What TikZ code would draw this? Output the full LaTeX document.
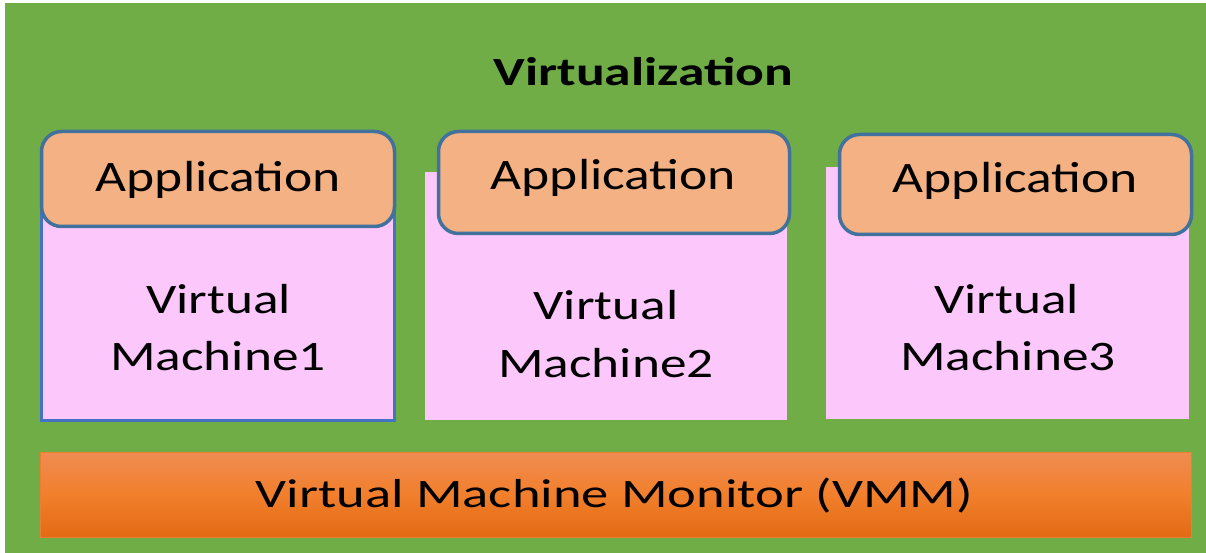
\documentclass[tikz,border=0pt]{standalone}
\usepackage{fontspec}
\setmainfont{Carlito}
\usepackage{graphicx}
\definecolor{bggreen}{HTML}{70AD47}
\definecolor{vmpink}{HTML}{FCC8FC}
\definecolor{appfill}{HTML}{F4B183}
\definecolor{appline}{HTML}{41719C}
\definecolor{vmline}{HTML}{4472C4}
\definecolor{vmmtop}{HTML}{F08C52}
\definecolor{vmmmid}{HTML}{F17F2C}
\definecolor{vmmbot}{HTML}{E36A14}
\definecolor{vmmline}{HTML}{ED7D31}
\tikzset{
  vmbox/.style={rectangle, fill=vmpink, inner sep=0pt},
  appbox/.style={rectangle, rounded corners=20pt, fill=appfill, draw=appline, line width=3.5pt, inner sep=0pt},
  vmmbox/.style={rectangle, top color=vmmtop, bottom color=vmmbot, middle color=vmmmid, draw=vmmline, line width=1pt, inner sep=0pt},
  apptext/.style={anchor=base, inner sep=0pt, font=\fontsize{43.5}{50}\selectfont},
  vmtext/.style={anchor=base, inner sep=0pt, font=\fontsize{42}{50}\selectfont},
  titletext/.style={anchor=base, inner sep=0pt, font=\fontsize{40}{48}\selectfont\bfseries},
  vmmtext/.style={anchor=base, inner sep=0pt, font=\fontsize{40.4}{48}\selectfont},
}
\newcommand{\wide}[2]{\scalebox{#1}[1]{#2}}
\begin{document}
\begin{tikzpicture}[x=1pt,y=-1pt]
\useasboundingbox (0,0) rectangle (1206,553);
\fill[white] (0,0) rectangle (1206,553);
\fill[bggreen] (5,3) rectangle (1206,553);
% VM boxes
\node[vmbox, draw=vmline, line width=3.5pt, minimum width=353pt, minimum height=246pt] (vm1) at (218,297.5) {};
\node[vmbox, minimum width=362pt, minimum height=248pt] (vm2) at (606,296) {};
\node[vmbox, minimum width=363pt, minimum height=252pt] (vm3) at (1007.5,293) {};
% Application boxes
\node[appbox, minimum width=353pt, minimum height=95pt] (app1) at (218,179) {};
\node[appbox, minimum width=351pt, minimum height=102pt] (app2) at (614,182.5) {};
\node[appbox, minimum width=352pt, minimum height=100pt] (app3) at (1015.5,184.5) {};
% VMM
\node[vmmbox, minimum width=1151pt, minimum height=85pt] (vmm) at (615.5,494.5) {};
% texts
\node[titletext] (title) at (643.5,86) {\wide{1.34}{Virtualization}};
\node[apptext] (a1) at (218.5,192) {\wide{1.23}{Application}};
\node[apptext] (a2) at (613.5,190) {\wide{1.23}{Application}};
\node[apptext] (a3) at (1015.5,193) {\wide{1.23}{Application}};
\node[vmtext] (v1a) at (218.5,313) {\wide{1.27}{Virtual}};
\node[vmtext] (v1b) at (218,370) {\wide{1.27}{Machine1}};
\node[vmtext] (v2a) at (606,319) {\wide{1.27}{Virtual}};
\node[vmtext] (v2b) at (606,377) {\wide{1.27}{Machine2}};
\node[vmtext] (v3a) at (1006.5,313) {\wide{1.27}{Virtual}};
\node[vmtext] (v3b) at (1008,370) {\wide{1.27}{Machine3}};
\node[vmmtext] (vmmt) at (614.5,507) {\wide{1.35}{Virtual Machine Monitor (VMM)}};
\end{tikzpicture}
\end{document}
